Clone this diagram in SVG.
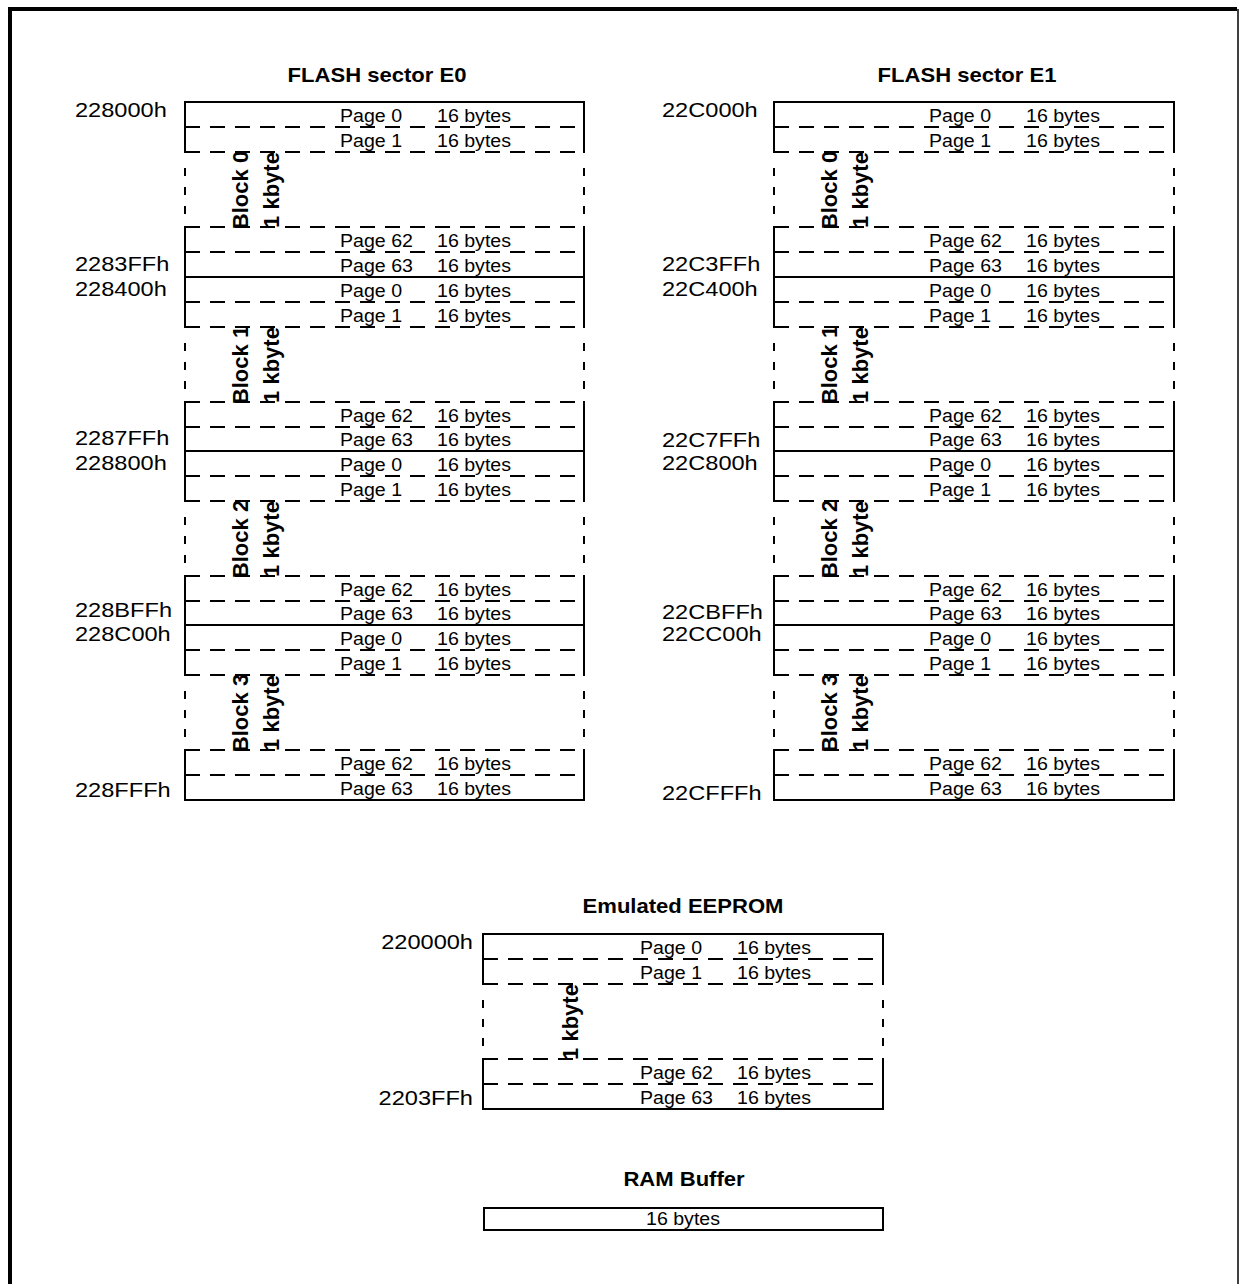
<svg xmlns="http://www.w3.org/2000/svg" width="1239" height="1284" viewBox="0 0 1239 1284">
<style>
.frame{stroke:#000;fill:none}
.solid{stroke:#000;stroke-width:2;fill:none;stroke-linecap:square}
.dash{stroke:#000;stroke-width:2;fill:none;stroke-dasharray:15 10}
.vdash{stroke:#000;stroke-width:2;fill:none;stroke-dasharray:0 16 8 11 8 11 8 100}
text{font-family:"Liberation Sans",Arial,sans-serif;fill:#000}
.addr{font-size:20px}
.pg{font-size:17.5px}
.title{font-size:21px;font-weight:bold;text-anchor:middle}
.rot{font-size:22px;font-weight:bold;text-anchor:middle}
.mid{text-anchor:middle}
</style>
<rect width="1239" height="1284" fill="#fff"/>
<g id="frame">
<path class="frame" stroke-width="4" d="M8,9H1237M10,7V1284"/>
<path class="frame" stroke-width="1.5" d="M1238,9V1284"/>
</g>
<g id="connectors"/>

<g id="sector-e0">
<text class="title" transform="translate(377,82) scale(1.05,1)">FLASH sector E0</text>
<g id="e0-block0">
<path class="solid" d="M185,102H584M185,102V152M185,227V277M584,102V152M584,227V277"/>
<path class="dash" d="M185,127H584M185,152H584M185,227H584M185,252H584"/>
<path class="vdash" d="M185,152V227M584,152V227"/>
<text class="addr" transform="translate(75,117) scale(1.18,1)">228000h</text>
<text class="addr" transform="translate(75,271) scale(1.18,1)">2283FFh</text>
<text class="pg" transform="translate(340,122) scale(1.12,1)">Page 0</text>
<text class="pg" transform="translate(437,122) scale(1.12,1)">16 bytes</text>
<text class="pg" transform="translate(340,147) scale(1.12,1)">Page 1</text>
<text class="pg" transform="translate(437,147) scale(1.12,1)">16 bytes</text>
<text class="pg" transform="translate(340,247) scale(1.12,1)">Page 62</text>
<text class="pg" transform="translate(437,247) scale(1.12,1)">16 bytes</text>
<text class="pg" transform="translate(340,272) scale(1.12,1)">Page 63</text>
<text class="pg" transform="translate(437,272) scale(1.12,1)">16 bytes</text>
<text class="rot" transform="translate(248,190) rotate(-90)">Block 0</text>
<text class="rot" transform="translate(279,190) rotate(-90)">1 kbyte</text>
</g>
<g id="e0-block1">
<path class="solid" d="M185,277H584M185,277V327M185,402V451M584,277V327M584,402V451"/>
<path class="dash" d="M185,302H584M185,327H584M185,402H584M185,427H584"/>
<path class="vdash" d="M185,327V402M584,327V402"/>
<text class="addr" transform="translate(75,296) scale(1.18,1)">228400h</text>
<text class="addr" transform="translate(75,445) scale(1.18,1)">2287FFh</text>
<text class="pg" transform="translate(340,297) scale(1.12,1)">Page 0</text>
<text class="pg" transform="translate(437,297) scale(1.12,1)">16 bytes</text>
<text class="pg" transform="translate(340,322) scale(1.12,1)">Page 1</text>
<text class="pg" transform="translate(437,322) scale(1.12,1)">16 bytes</text>
<text class="pg" transform="translate(340,422) scale(1.12,1)">Page 62</text>
<text class="pg" transform="translate(437,422) scale(1.12,1)">16 bytes</text>
<text class="pg" transform="translate(340,446) scale(1.12,1)">Page 63</text>
<text class="pg" transform="translate(437,446) scale(1.12,1)">16 bytes</text>
<text class="rot" transform="translate(248,365) rotate(-90)">Block 1</text>
<text class="rot" transform="translate(279,365) rotate(-90)">1 kbyte</text>
</g>
<g id="e0-block2">
<path class="solid" d="M185,451H584M185,451V501M185,576V625M584,451V501M584,576V625"/>
<path class="dash" d="M185,476H584M185,501H584M185,576H584M185,601H584"/>
<path class="vdash" d="M185,501V576M584,501V576"/>
<text class="addr" transform="translate(75,470) scale(1.18,1)">228800h</text>
<text class="addr" transform="translate(75,617) scale(1.18,1)">228BFFh</text>
<text class="pg" transform="translate(340,471) scale(1.12,1)">Page 0</text>
<text class="pg" transform="translate(437,471) scale(1.12,1)">16 bytes</text>
<text class="pg" transform="translate(340,496) scale(1.12,1)">Page 1</text>
<text class="pg" transform="translate(437,496) scale(1.12,1)">16 bytes</text>
<text class="pg" transform="translate(340,596) scale(1.12,1)">Page 62</text>
<text class="pg" transform="translate(437,596) scale(1.12,1)">16 bytes</text>
<text class="pg" transform="translate(340,620) scale(1.12,1)">Page 63</text>
<text class="pg" transform="translate(437,620) scale(1.12,1)">16 bytes</text>
<text class="rot" transform="translate(248,539) rotate(-90)">Block 2</text>
<text class="rot" transform="translate(279,539) rotate(-90)">1 kbyte</text>
</g>
<g id="e0-block3">
<path class="solid" d="M185,625H584M185,625V675M185,750V800M584,625V675M584,750V800M185,800H584"/>
<path class="dash" d="M185,650H584M185,675H584M185,750H584M185,775H584"/>
<path class="vdash" d="M185,675V750M584,675V750"/>
<text class="addr" transform="translate(75,641) scale(1.18,1)">228C00h</text>
<text class="addr" transform="translate(75,797) scale(1.18,1)">228FFFh</text>
<text class="pg" transform="translate(340,645) scale(1.12,1)">Page 0</text>
<text class="pg" transform="translate(437,645) scale(1.12,1)">16 bytes</text>
<text class="pg" transform="translate(340,670) scale(1.12,1)">Page 1</text>
<text class="pg" transform="translate(437,670) scale(1.12,1)">16 bytes</text>
<text class="pg" transform="translate(340,770) scale(1.12,1)">Page 62</text>
<text class="pg" transform="translate(437,770) scale(1.12,1)">16 bytes</text>
<text class="pg" transform="translate(340,795) scale(1.12,1)">Page 63</text>
<text class="pg" transform="translate(437,795) scale(1.12,1)">16 bytes</text>
<text class="rot" transform="translate(248,713) rotate(-90)">Block 3</text>
<text class="rot" transform="translate(279,713) rotate(-90)">1 kbyte</text>
</g>
</g>

<g id="sector-e1">
<text class="title" transform="translate(967,82) scale(1.05,1)">FLASH sector E1</text>
<g id="e1-block0">
<path class="solid" d="M774,102H1174M774,102V152M774,227V277M1174,102V152M1174,227V277"/>
<path class="dash" d="M774,127H1174M774,152H1174M774,227H1174M774,252H1174"/>
<path class="vdash" d="M774,152V227M1174,152V227"/>
<text class="addr" transform="translate(662,117) scale(1.18,1)">22C000h</text>
<text class="addr" transform="translate(662,271) scale(1.18,1)">22C3FFh</text>
<text class="pg" transform="translate(929,122) scale(1.12,1)">Page 0</text>
<text class="pg" transform="translate(1026,122) scale(1.12,1)">16 bytes</text>
<text class="pg" transform="translate(929,147) scale(1.12,1)">Page 1</text>
<text class="pg" transform="translate(1026,147) scale(1.12,1)">16 bytes</text>
<text class="pg" transform="translate(929,247) scale(1.12,1)">Page 62</text>
<text class="pg" transform="translate(1026,247) scale(1.12,1)">16 bytes</text>
<text class="pg" transform="translate(929,272) scale(1.12,1)">Page 63</text>
<text class="pg" transform="translate(1026,272) scale(1.12,1)">16 bytes</text>
<text class="rot" transform="translate(837,190) rotate(-90)">Block 0</text>
<text class="rot" transform="translate(868,190) rotate(-90)">1 kbyte</text>
</g>
<g id="e1-block1">
<path class="solid" d="M774,277H1174M774,277V327M774,402V451M1174,277V327M1174,402V451"/>
<path class="dash" d="M774,302H1174M774,327H1174M774,402H1174M774,427H1174"/>
<path class="vdash" d="M774,327V402M1174,327V402"/>
<text class="addr" transform="translate(662,296) scale(1.18,1)">22C400h</text>
<text class="addr" transform="translate(662,447) scale(1.18,1)">22C7FFh</text>
<text class="pg" transform="translate(929,297) scale(1.12,1)">Page 0</text>
<text class="pg" transform="translate(1026,297) scale(1.12,1)">16 bytes</text>
<text class="pg" transform="translate(929,322) scale(1.12,1)">Page 1</text>
<text class="pg" transform="translate(1026,322) scale(1.12,1)">16 bytes</text>
<text class="pg" transform="translate(929,422) scale(1.12,1)">Page 62</text>
<text class="pg" transform="translate(1026,422) scale(1.12,1)">16 bytes</text>
<text class="pg" transform="translate(929,446) scale(1.12,1)">Page 63</text>
<text class="pg" transform="translate(1026,446) scale(1.12,1)">16 bytes</text>
<text class="rot" transform="translate(837,365) rotate(-90)">Block 1</text>
<text class="rot" transform="translate(868,365) rotate(-90)">1 kbyte</text>
</g>
<g id="e1-block2">
<path class="solid" d="M774,451H1174M774,451V501M774,576V625M1174,451V501M1174,576V625"/>
<path class="dash" d="M774,476H1174M774,501H1174M774,576H1174M774,601H1174"/>
<path class="vdash" d="M774,501V576M1174,501V576"/>
<text class="addr" transform="translate(662,470) scale(1.18,1)">22C800h</text>
<text class="addr" transform="translate(662,619) scale(1.18,1)">22CBFFh</text>
<text class="pg" transform="translate(929,471) scale(1.12,1)">Page 0</text>
<text class="pg" transform="translate(1026,471) scale(1.12,1)">16 bytes</text>
<text class="pg" transform="translate(929,496) scale(1.12,1)">Page 1</text>
<text class="pg" transform="translate(1026,496) scale(1.12,1)">16 bytes</text>
<text class="pg" transform="translate(929,596) scale(1.12,1)">Page 62</text>
<text class="pg" transform="translate(1026,596) scale(1.12,1)">16 bytes</text>
<text class="pg" transform="translate(929,620) scale(1.12,1)">Page 63</text>
<text class="pg" transform="translate(1026,620) scale(1.12,1)">16 bytes</text>
<text class="rot" transform="translate(837,539) rotate(-90)">Block 2</text>
<text class="rot" transform="translate(868,539) rotate(-90)">1 kbyte</text>
</g>
<g id="e1-block3">
<path class="solid" d="M774,625H1174M774,625V675M774,750V800M1174,625V675M1174,750V800M774,800H1174"/>
<path class="dash" d="M774,650H1174M774,675H1174M774,750H1174M774,775H1174"/>
<path class="vdash" d="M774,675V750M1174,675V750"/>
<text class="addr" transform="translate(662,641) scale(1.18,1)">22CC00h</text>
<text class="addr" transform="translate(662,800) scale(1.18,1)">22CFFFh</text>
<text class="pg" transform="translate(929,645) scale(1.12,1)">Page 0</text>
<text class="pg" transform="translate(1026,645) scale(1.12,1)">16 bytes</text>
<text class="pg" transform="translate(929,670) scale(1.12,1)">Page 1</text>
<text class="pg" transform="translate(1026,670) scale(1.12,1)">16 bytes</text>
<text class="pg" transform="translate(929,770) scale(1.12,1)">Page 62</text>
<text class="pg" transform="translate(1026,770) scale(1.12,1)">16 bytes</text>
<text class="pg" transform="translate(929,795) scale(1.12,1)">Page 63</text>
<text class="pg" transform="translate(1026,795) scale(1.12,1)">16 bytes</text>
<text class="rot" transform="translate(837,713) rotate(-90)">Block 3</text>
<text class="rot" transform="translate(868,713) rotate(-90)">1 kbyte</text>
</g>
</g>

<g id="emulated-eeprom">
<text class="title" transform="translate(683,913) scale(1.05,1)">Emulated EEPROM</text>
<path class="solid" d="M483,934H883M483,934V984M483,1059V1109M883,934V984M883,1059V1109M483,1109H883"/>
<path class="dash" d="M483,959H883M483,984H883M483,1059H883M483,1084H883"/>
<path class="vdash" d="M483,984V1059M883,984V1059"/>
<text class="addr" text-anchor="end" transform="translate(473,949) scale(1.18,1)">220000h</text>
<text class="addr" text-anchor="end" transform="translate(473,1105) scale(1.18,1)">2203FFh</text>
<text class="pg" transform="translate(640,954) scale(1.12,1)">Page 0</text>
<text class="pg" transform="translate(737,954) scale(1.12,1)">16 bytes</text>
<text class="pg" transform="translate(640,979) scale(1.12,1)">Page 1</text>
<text class="pg" transform="translate(737,979) scale(1.12,1)">16 bytes</text>
<text class="pg" transform="translate(640,1079) scale(1.12,1)">Page 62</text>
<text class="pg" transform="translate(737,1079) scale(1.12,1)">16 bytes</text>
<text class="pg" transform="translate(640,1104) scale(1.12,1)">Page 63</text>
<text class="pg" transform="translate(737,1104) scale(1.12,1)">16 bytes</text>
<text class="rot" transform="translate(578,1022) rotate(-90)">1 kbyte</text>
</g>

<g id="ram-buffer">
<text class="title" transform="translate(684,1186) scale(1.05,1)">RAM Buffer</text>
<rect class="solid" x="484" y="1208" width="399" height="22"/>
<text class="pg mid" transform="translate(683,1225) scale(1.12,1)">16 bytes</text>
</g>
</svg>
